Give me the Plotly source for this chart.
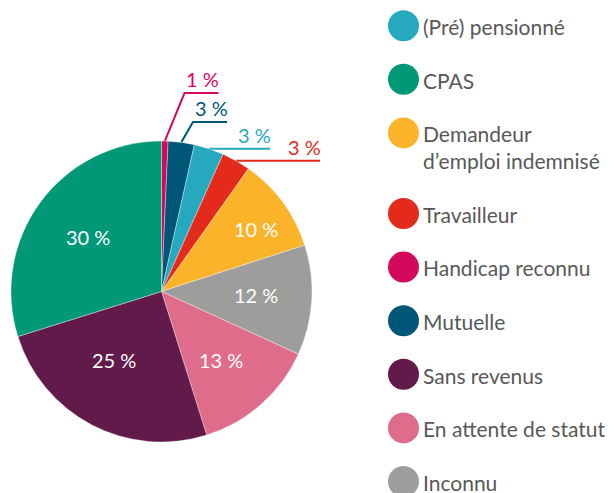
import math
import plotly.graph_objects as go

# ---------------- data ----------------
slice_labels = ["Handicap reconnu", "Mutuelle", "(Pré) pensionné", "Travailleur",
                "Demandeur d’emploi indemnisé", "Inconnu", "En attente de statut",
                "Sans revenus", "CPAS"]
slice_values = [0.7, 2.8, 3.2, 3.1, 10.2, 11.8, 13.3, 25.0, 29.8]
slice_colors = ["#d4085c", "#005677", "#26a9bf", "#e42b1b", "#fbb32a",
                "#9d9d9c", "#e06c8c", "#621a4b", "#009877"]

legend_order = ["(Pré) pensionné", "CPAS", "Demandeur d’emploi indemnisé", "Travailleur",
                "Handicap reconnu", "Mutuelle", "Sans revenus", "En attente de statut",
                "Inconnu"]
legend_text = {"Demandeur d’emploi indemnisé": "Demandeur<br>d’emploi indemnisé"}

pct_text = [f"{round(v)} %" for v in slice_values]

# ---------------- layout constants (screen pixels) ----------------
VIEW_W, VIEW_H = 616, 493
OFF = 8                      # default body margin of the html page
W, H = VIEW_W - OFF, VIEW_H - OFF   # figure fits in the window without scrollbars
CX, CY, R = 161.5, 291.5, 150.5
FONT = "Lato"
GREY = "#58585a"
INSIDE_MIN = 5

# inside label placement: (radius fraction, angle tweak in degrees)
inside_place = {
    "Demandeur d’emploi indemnisé": (0.75, 2.9),
    "Inconnu": (0.625, -1.5),
    "En attente de statut": (0.605, 0.3),
    "Sans revenus": (0.553, 7.1),
    "CPAS": (0.607, 0.4),
}
# outside-label layout: elbow (x, y) or None for a straight horizontal leader, end x
outside_layout = {
    "Handicap reconnu": ((184.5, 93), 218.5),
    "Mutuelle": ((193, 122), 227),
    "(Pré) pensionné": (None, 270),
    "Travailleur": (None, 320),
}

fig = go.Figure()

fig.add_trace(go.Pie(
    labels=slice_labels, values=slice_values,
    textinfo="none", sort=False, direction="clockwise", rotation=0,
    marker=dict(colors=slice_colors, line=dict(color="rgba(255,255,255,0.6)", width=0.6)),
    domain=dict(x=[(CX - R - OFF) / W, (CX + R - OFF) / W],
                y=[1 - (CY - OFF + R) / H, 1 - (CY - OFF - R) / H]),
    showlegend=False, hoverinfo="label+percent",
))

total = sum(slice_values)
cum = 0
annotations = []
for name, v, col, t in zip(slice_labels, slice_values, slice_colors, pct_text):
    mid_deg = (cum + v / 2) / total * 360
    cum += v
    if v >= INSIDE_MIN:
        rf, da = inside_place.get(name, (0.62, 0.0))
        a = math.radians(mid_deg + da)
        annotations.append(dict(x=CX + rf * R * math.sin(a), y=CY - rf * R * math.cos(a),
                                xref="x", yref="y", text=t, showarrow=False,
                                xanchor="center", yanchor="middle",
                                font=dict(family=FONT, size=20, color="white")))
        continue
    a = math.radians(mid_deg)
    sx, sy = CX + R * math.sin(a), CY - R * math.cos(a)
    elbow, end_x = outside_layout[name]
    if elbow is None:
        xs, ys = [sx, end_x], [sy, sy]
        ly = sy
    else:
        xs, ys = [sx, elbow[0], end_x], [sy, elbow[1], elbow[1]]
        ly = elbow[1]
    fig.add_trace(go.Scatter(x=xs, y=ys, mode="lines", line=dict(color=col, width=2),
                             showlegend=False, hoverinfo="skip"))
    annotations.append(dict(x=end_x, y=ly - 1, xref="x", yref="y", text=t, showarrow=False,
                            xanchor="right", yanchor="bottom", xshift=2.5, yshift=-1,
                            font=dict(family=FONT, size=20, color=col)))

# custom legend
color_of = dict(zip(slice_labels, slice_colors))
LEG_X, LEG_TX, LEG_Y0, LEG_STEP, LEG_LINE = 403.5, 421, 25.7, 53.6, 27
LEG_FS = 21
leg_y = []
y = LEG_Y0
for name in legend_order:
    leg_y.append(y)
    y += LEG_STEP + LEG_LINE * legend_text.get(name, name).count("<br>")

fig.add_trace(go.Scatter(
    x=[LEG_X] * len(legend_order), y=leg_y, mode="markers",
    marker=dict(size=31, color=[color_of[n] for n in legend_order], line=dict(width=0)),
    showlegend=False, hoverinfo="skip"))

for name, yy in zip(legend_order, leg_y):
    annotations.append(dict(x=LEG_TX, y=yy - LEG_FS * 1.3 / 2, xref="x", yref="y",
                            text=legend_text.get(name, name), showarrow=False,
                            xanchor="left", yanchor="top", align="left",
                            font=dict(family=FONT, size=LEG_FS, color=GREY)))

fig.update_layout(
    width=W, height=H, margin=dict(l=0, r=0, t=0, b=0),
    paper_bgcolor="white", plot_bgcolor="white",
    xaxis=dict(range=[OFF, OFF + W], visible=False, domain=[0, 1], fixedrange=True),
    yaxis=dict(range=[OFF + H, OFF], visible=False, domain=[0, 1], fixedrange=True),
    annotations=annotations, showlegend=False,
)

fig.write_html("out.html")
